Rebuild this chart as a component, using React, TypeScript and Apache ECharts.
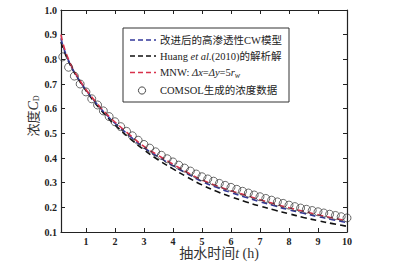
import React, { useEffect, useRef } from "react";
import * as echarts from "echarts";

// Time axis for the curves (h)
const tLine = [0.14, 0.2, 0.3, 0.4, 0.5, 0.6, 0.8, 1.0, 1.25, 1.5, 1.75, 2.0, 2.5, 3.0, 3.5, 4.0, 4.5, 5.0, 5.5, 6.0, 6.5, 7.0, 7.5, 8.0, 8.5, 9.0, 9.5, 10.0];
// 改进后的高渗透性CW模型 (blue dashed)
const cwModel = [0.885, 0.858, 0.824, 0.795, 0.770, 0.748, 0.710, 0.676, 0.637, 0.602, 0.570, 0.541, 0.490, 0.442, 0.404, 0.369, 0.336, 0.305, 0.281, 0.260, 0.241, 0.223, 0.206, 0.190, 0.176, 0.162, 0.150, 0.138];
// Huang et al.(2010)的解析解 (black dashed)
const huang = [0.870, 0.848, 0.818, 0.792, 0.768, 0.746, 0.708, 0.673, 0.633, 0.597, 0.564, 0.534, 0.481, 0.433, 0.392, 0.356, 0.322, 0.291, 0.265, 0.243, 0.223, 0.205, 0.189, 0.174, 0.159, 0.146, 0.134, 0.123];
// MNW: Δx=Δy=5r_w (red dashed)
const mnw = [0.900, 0.868, 0.830, 0.800, 0.774, 0.752, 0.713, 0.678, 0.640, 0.605, 0.574, 0.546, 0.495, 0.447, 0.410, 0.375, 0.341, 0.311, 0.288, 0.267, 0.249, 0.231, 0.214, 0.198, 0.184, 0.170, 0.157, 0.145];
// COMSOL生成的浓度数据 (circles)
const tComsol = [0.2, 0.4, 0.6, 0.8, 1.0, 1.2, 1.4, 1.6, 1.8, 2.0, 2.2, 2.4, 2.6, 2.8, 3.0, 3.2, 3.4, 3.6, 3.8, 4.0, 4.2, 4.4, 4.6, 4.8, 5.0, 5.2, 5.4, 5.6, 5.8, 6.0, 6.2, 6.4, 6.6, 6.8, 7.0, 7.2, 7.4, 7.6, 7.8, 8.0, 8.2, 8.4, 8.6, 8.8, 9.0, 9.2, 9.4, 9.6, 9.8, 10.0];
const comsol = [0.810, 0.768, 0.732, 0.700, 0.668, 0.640, 0.615, 0.591, 0.568, 0.547, 0.527, 0.508, 0.490, 0.472, 0.455, 0.440, 0.425, 0.411, 0.397, 0.384, 0.371, 0.359, 0.347, 0.335, 0.324, 0.315, 0.306, 0.297, 0.289, 0.281, 0.273, 0.265, 0.258, 0.250, 0.243, 0.236, 0.229, 0.222, 0.216, 0.209, 0.203, 0.197, 0.192, 0.187, 0.182, 0.177, 0.172, 0.167, 0.162, 0.157];

const xTicks = [1, 2, 3, 4, 5, 6, 7, 8, 9, 10];
const yTicks = [0.1, 0.2, 0.3, 0.4, 0.5, 0.6, 0.7, 0.8, 0.9, 1.0];

const SERIF = "'Liberation Serif', 'Times New Roman', 'Noto Sans CJK SC', serif";
const BLUE = "#33399a";
const RED = "#d8314b";
const BLACK = "#111111";
const LEG_FS = 10.5;

export default function App() {
  const ref = useRef<HTMLDivElement>(null);
  useEffect(() => {
    if (!ref.current) return;
    const chart = echarts.init(ref.current, null, { renderer: "svg" });
    const pair = (ts: number[], vs: number[]) => ts.map((t, i) => [t, vs[i]]);
    const lineSeries = (name: string, data: number[], color: string) => ({
      name,
      type: "line",
      data: pair(tLine, data),
      smooth: true,
      showSymbol: false,
      symbol: "none",
      lineStyle: { color, width: 1.6, type: [6, 4] },
      z: 3,
    });
    const tickCommon = { show: true, inside: true, length: 4, lineStyle: { color: "#222", width: 1 } };
    const legText = (y: number, text: string, rich?: any) => ({
      type: "text",
      x: 160,
      y,
      style: {
        text,
        fontFamily: SERIF,
        fontSize: LEG_FS,
        fill: "#222",
        verticalAlign: "middle",
        align: "left",
        rich,
      },
    });
    chart.setOption({
      animation: false,
      backgroundColor: "#ffffff",
      grid: { left: 61, top: 10, width: 286, height: 222, containLabel: false },
      xAxis: [
        {
          type: "value",
          min: 0.14,
          max: 10,
          axisLine: { show: true, lineStyle: { color: "#222", width: 1.2 } },
          axisTick: { ...tickCommon, customValues: xTicks },
          axisLabel: {
            customValues: xTicks,
            margin: 4,
            fontFamily: SERIF,
            fontWeight: "bold",
            fontSize: 10,
            color: "#222",
            formatter: (v: number) => String(Math.round(v)),
          },
          splitLine: { show: false },
        },
        {
          type: "value",
          position: "top",
          min: 0.14,
          max: 10,
          axisLine: { show: true, lineStyle: { color: "#222", width: 1.2 } },
          axisTick: { ...tickCommon, customValues: xTicks },
          axisLabel: { show: false },
          splitLine: { show: false },
        },
      ],
      yAxis: [
        {
          type: "value",
          min: 0.1,
          max: 1.0,
          axisLine: { show: true, lineStyle: { color: "#222", width: 1.2 } },
          axisTick: { ...tickCommon, customValues: yTicks },
          axisLabel: {
            customValues: yTicks,
            margin: 4,
            fontFamily: SERIF,
            fontWeight: "bold",
            fontSize: 10,
            color: "#222",
            formatter: (v: number) => v.toFixed(1),
          },
          splitLine: { show: false },
        },
        {
          type: "value",
          position: "right",
          min: 0.1,
          max: 1.0,
          axisLine: { show: true, lineStyle: { color: "#222", width: 1.2 } },
          axisTick: { ...tickCommon, customValues: yTicks },
          axisLabel: { show: false },
          splitLine: { show: false },
        },
      ],
      series: [
        lineSeries("Huang et al.(2010)的解析解", huang, BLACK),
        lineSeries("改进后的高渗透性CW模型", cwModel, BLUE),
        lineSeries("MNW: Δx=Δy=5rw", mnw, RED),
        {
          name: "COMSOL生成的浓度数据",
          type: "scatter",
          data: pair(tComsol, comsol),
          symbol: "circle",
          symbolSize: 8,
          itemStyle: { color: "rgba(0,0,0,0)", borderColor: "#333", borderWidth: 0.9 },
          z: 4,
        },
      ],
      graphic: [
        {
          type: "group",
          z: 10,
          children: [
            {
              type: "rect",
              shape: { x: 123, y: 28, width: 166, height: 74 },
              style: { fill: "#ffffff", stroke: "#333", lineWidth: 1 },
            },
            {
              type: "line",
              shape: { x1: 130, y1: 40, x2: 156, y2: 40 },
              style: { stroke: BLUE, lineWidth: 1.5, lineDash: [5, 3] },
            },
            {
              type: "line",
              shape: { x1: 130, y1: 56, x2: 156, y2: 56 },
              style: { stroke: BLACK, lineWidth: 1.5, lineDash: [5, 3] },
            },
            {
              type: "line",
              shape: { x1: 130, y1: 72.5, x2: 156, y2: 72.5 },
              style: { stroke: RED, lineWidth: 1.5, lineDash: [5, 3] },
            },
            {
              type: "circle",
              shape: { cx: 142, cy: 90.5, r: 3.6 },
              style: { fill: "none", stroke: "#333", lineWidth: 0.9 },
            },
            legText(40, "改进后的高渗透性CW模型"),
            legText(56, "Huang {it|et al.}(2010)的解析解", {
              it: { fontFamily: SERIF, fontSize: LEG_FS, fontStyle: "italic", fill: "#222" },
            }),
            legText(72.5, "MNW: {it|Δx}={it|Δy}=5{it|r}{sub|w}", {
              it: { fontFamily: SERIF, fontSize: LEG_FS, fontStyle: "italic", fill: "#222" },
              sub: { fontFamily: SERIF, fontSize: 8, fontStyle: "italic", fill: "#222", verticalAlign: "bottom", padding: [6, 0, 0, 0] },
            }),
            legText(90.5, "COMSOL生成的浓度数据"),
          ],
        },
        {
          type: "text",
          x: 33,
          y: 116,
          rotation: Math.PI / 2,
          style: {
            text: "浓度{it|C}{sub|D}",
            fontFamily: SERIF,
            fontSize: 13,
            fill: "#333",
            align: "center",
            verticalAlign: "middle",
            rich: {
              it: { fontFamily: SERIF, fontSize: 14, fontStyle: "italic", fill: "#333" },
              sub: { fontFamily: SERIF, fontSize: 8, fill: "#333", verticalAlign: "bottom", padding: [7, 0, 0, 0] },
            },
          },
        },
        {
          type: "text",
          x: 219,
          y: 253,
          style: {
            text: "抽水时间{it|t} (h)",
            fontFamily: SERIF,
            fontSize: 14,
            fill: "#333",
            align: "center",
            verticalAlign: "middle",
            rich: {
              it: { fontFamily: SERIF, fontSize: 14, fontStyle: "italic", fill: "#333" },
            },
          },
        },
      ],
    });
    return () => chart.dispose();
  }, []);
  return (
    <div
      ref={ref}
      style={{ position: "absolute", left: 0, top: 0, width: 401, height: 267, background: "#fff" }}
    />
  );
}
